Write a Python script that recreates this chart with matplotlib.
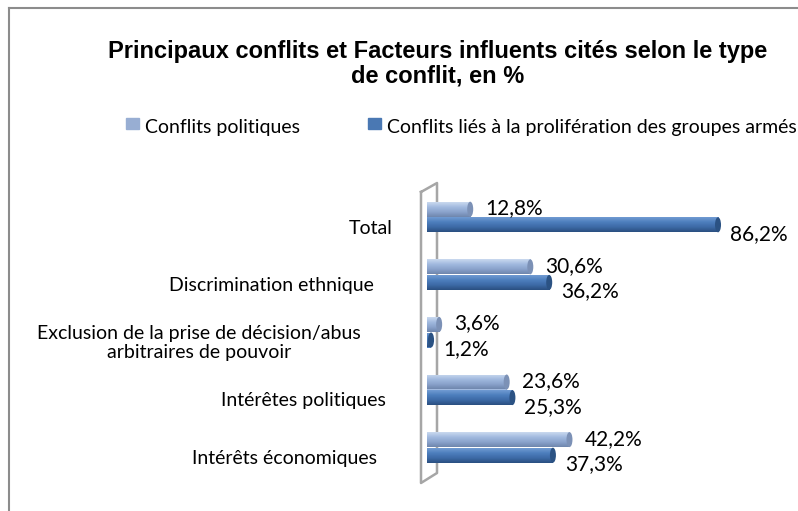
import numpy as np
import matplotlib.pyplot as plt
from matplotlib.patches import Ellipse, Rectangle
from matplotlib.lines import Line2D
from matplotlib.colors import LinearSegmentedColormap

# ── données ──────────────────────────────────────────────────────────────
categories = [
    "Total",
    "Discrimination ethnique",
    "Exclusion de la prise de décision/abus\narbitraires de pouvoir",
    "Intérêtes politiques",
    "Intérêts économiques",
]
politiques = [12.8, 30.6, 3.6, 23.6, 42.2]
groupes_armes = [86.2, 36.2, 1.2, 25.3, 37.3]
series_names = ["Conflits politiques",
                "Conflits liés à la prolifération des groupes armés"]
title = "Principaux conflits et Facteurs influents cités selon le type\nde conflit, en %"

# ── mise en page (pixels de l'image 798x511) ─────────────────────────────
W, H = 798, 511
X0_PX = 427          # position du zéro
PX_PER_PCT = 3.376
CAT0_PX = 217        # centre de la 1re catégorie
CAT_STEP = 57.6
AX_TOP, AX_BOT = 180, 490

LABEL_FONT = "Lato"
TITLE_FONT = "Liberation Sans"

light_grad = ["#cad9ef", "#a2badf", "#8aa3cc", "#6f86ad"]
dark_grad = ["#709bd2", "#4d7ebd", "#3d6aa6", "#2a4f80"]
light_cap = "#7c91b6"
dark_cap = "#2b5283"

fig = plt.figure(figsize=(W / 100, H / 100), dpi=100)
ax = fig.add_axes([X0_PX / W, 1 - AX_BOT / H, (W - X0_PX) / W, (AX_BOT - AX_TOP) / H])
ax.axis("off")


def px2x(px):
    return (px - X0_PX) / PX_PER_PCT


def px2y(py):
    return (py - CAT0_PX) / CAT_STEP


# paroi 3D (mur gauche)
wall = [(421, 192), (437, 183), (437, 473), (421, 483), (421, 192)]
ax.add_line(Line2D([px2x(p[0]) for p in wall], [px2y(p[1]) for p in wall],
                   color="#a6a6a6", lw=1.8, clip_on=False, zorder=1))

y = np.arange(len(categories))
bh = 15 / CAT_STEP
off = 7.8 / CAT_STEP

for vals, dy, grad, cap in [(politiques, -off, light_grad, light_cap),
                            (groupes_armes, off, dark_grad, dark_cap)]:
    bars = ax.barh(y + dy, vals, height=bh, color=grad[1], zorder=2)
    cmap = LinearSegmentedColormap.from_list("g", grad)
    for bar, v in zip(bars, vals):
        x0, yb = bar.get_x(), bar.get_y()
        im = ax.imshow(np.linspace(0, 1, 64).reshape(-1, 1), cmap=cmap, aspect="auto",
                       extent=[x0, x0 + v, yb + bh, yb], origin="upper", zorder=3)
        im.set_clip_path(bar)
        ax.add_patch(Ellipse((v, yb + bh / 2), 6 / PX_PER_PCT, bh,
                             facecolor=cap, edgecolor="none", zorder=4))

ax.set_xlim(0, (W - X0_PX) / PX_PER_PCT)
ax.set_ylim((AX_BOT - CAT0_PX) / CAT_STEP, (AX_TOP - CAT0_PX) / CAT_STEP)

# étiquettes de valeurs
for i, (a, b) in enumerate(zip(politiques, groupes_armes)):
    ax.text(a + 15 / PX_PER_PCT, i - off - 1 / CAT_STEP, f"{a:.1f}%".replace(".", ","),
            va="center", ha="left", fontsize=15, family=LABEL_FONT, clip_on=False)
    ax.text(b + 12 / PX_PER_PCT, i + off + 9 / CAT_STEP, f"{b:.1f}%".replace(".", ","),
            va="center", ha="left", fontsize=15, family=LABEL_FONT, clip_on=False)

# étiquettes de catégories
label_right_px = [393, 374, 361, 386, 377]
for i, (lab, rx) in enumerate(zip(categories, label_right_px)):
    ax.text(px2x(rx), i + 11 / CAT_STEP, lab, ha="right", va="center",
            multialignment="center", fontsize=14, family=LABEL_FONT,
            linespacing=1.15, clip_on=False)

# titre
fig.text(438 / W, 1 - 63.5 / H, title, ha="center", va="center", fontsize=17,
         fontweight="bold", family=TITLE_FONT, linespacing=1.1)

# légende
fig.patches.append(Rectangle((126 / W, 1 - 129 / H), 13 / W, 11 / H,
                             transform=fig.transFigure, color="#98aed3"))
fig.patches.append(Rectangle((368 / W, 1 - 129 / H), 13 / W, 11 / H,
                             transform=fig.transFigure, color="#4a78b3"))
fig.text(145 / W, 1 - 128 / H, series_names[0], va="center", ha="left",
         fontsize=14, family=LABEL_FONT)
fig.text(387 / W, 1 - 128 / H, series_names[1], va="center", ha="left",
         fontsize=14, family=LABEL_FONT)

# cadre du graphique (bords gauche et haut seulement visibles)
fig.lines.append(Line2D([8.5 / W, 8.5 / W], [0, 1 - 8.5 / H], transform=fig.transFigure,
                        color="#8c8c8c", lw=1.5))
fig.lines.append(Line2D([8.5 / W, 1], [1 - 8.5 / H, 1 - 8.5 / H], transform=fig.transFigure,
                        color="#8c8c8c", lw=1.5))

fig.savefig("out.png", dpi=100)
